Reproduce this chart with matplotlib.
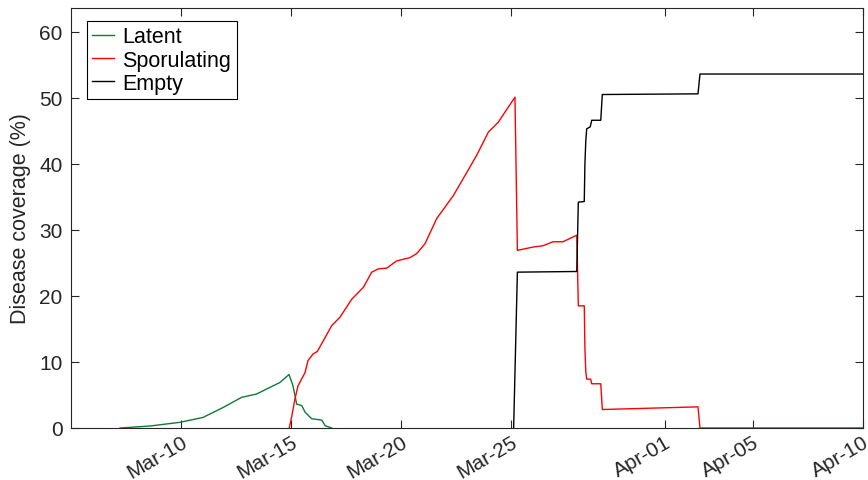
import datetime as dt
import matplotlib
matplotlib.use("Agg")
import matplotlib.pyplot as plt
import matplotlib.dates as mdates

plt.rcParams['font.family'] = ['Liberation Sans', 'DejaVu Sans']

base = dt.datetime(2014, 3, 5)

# days since Mar-05
latent_days = [2.23, 3.59, 4.95, 6.0, 6.91, 7.76, 8.44, 8.95, 9.5, 9.91,
               10.09, 10.26, 10.49, 10.64, 10.94, 11.4, 11.55, 11.85]
latent_vals = [0, 0.3, 0.86, 1.6, 3.1, 4.65, 5.15, 6.0, 6.9, 8.1,
               6.4, 3.6, 3.4, 2.4, 1.4, 1.2, 0.35, 0]

spor_days = [9.92, 10.03, 10.18, 10.32, 10.64, 10.77, 11.0, 11.2, 11.55, 11.85,
             12.23, 12.76, 13.29, 13.67, 13.97, 14.35, 14.8, 15.41, 15.71, 16.09,
             16.62, 17.38, 17.99, 18.44, 18.97, 19.42, 20.18, 20.29, 21.0, 21.45,
             21.91, 22.36, 22.99, 23.06, 23.33, 23.36, 23.4, 23.44, 23.62, 23.67,
             24.08, 24.15, 28.5, 28.59, 36.0]
spor_vals = [0, 1.7, 4.4, 6.4, 8.4, 10.2, 11.2, 11.6, 13.7, 15.5,
             16.8, 19.5, 21.3, 23.6, 24.1, 24.2, 25.3, 25.8, 26.4, 27.9,
             31.7, 35.2, 38.7, 41.3, 44.8, 46.3, 50.1, 26.9, 27.4, 27.6,
             28.2, 28.2, 29.2, 18.5, 18.5, 12.0, 8.5, 7.4, 7.4, 6.7,
             6.7, 2.8, 3.2, 0, 0]

empty_days = [20.12, 20.29, 22.99, 23.06, 23.33, 23.36, 23.4, 23.44, 23.6, 23.67,
              24.08, 24.15, 28.5, 28.59, 36.0]
empty_vals = [0, 23.6, 23.7, 34.2, 34.3, 40.0, 43.5, 45.3, 45.6, 46.6,
              46.6, 50.5, 50.6, 53.6, 53.6]

tick_dates = ["2014-03-10", "2014-03-15", "2014-03-20", "2014-03-25",
              "2014-04-01", "2014-04-05", "2014-04-10"]
y_ticks = [0, 10, 20, 30, 40, 50, 60]


def to_dates(days):
    return [base + dt.timedelta(days=d) for d in days]


fig = plt.figure(figsize=(8.68, 4.81), dpi=100)
ax = fig.add_axes([71 / 868, 1 - 429 / 481, (863 - 71) / 868, (429 - 9) / 481])

ax.plot(to_dates(latent_days), latent_vals, color='#0f7a35', lw=1.0, label='Latent')
ax.plot(to_dates(spor_days), spor_vals, color='#ff0000', lw=1.0, label='Sporulating')
ax.plot(to_dates(empty_days), empty_vals, color='#000000', lw=1.0, label='Empty')

ax.set_xlim(base, base + dt.timedelta(days=36))
ax.set_ylim(0, 63.6)
ax.set_yticks(y_ticks)
ax.set_xticks([dt.datetime.strptime(t, "%Y-%m-%d") for t in tick_dates])
ax.xaxis.set_major_formatter(mdates.DateFormatter('%b-%d'))

ax.tick_params(direction='in', length=6, width=0.8, top=True, right=True,
               labelsize=15, colors='#262626', labelcolor='#262626')
ax.tick_params(axis='y', pad=6)
ax.tick_params(axis='x', pad=3)
for lab in ax.get_xticklabels():
    lab.set_rotation(30)
    lab.set_ha('right')
    lab.set_rotation_mode('anchor')

for s in ax.spines.values():
    s.set_color('#262626')
    s.set_linewidth(0.8)

ax.set_ylabel('Disease coverage (%)', fontsize=15.5, color='#262626', labelpad=6)

leg = ax.legend(loc='upper left', bbox_to_anchor=(87 / 868, 1 - 22 / 481),
                bbox_transform=fig.transFigure, borderaxespad=0, fontsize=15.5,
                fancybox=False, edgecolor='black', framealpha=1,
                handlelength=1.0, handletextpad=0.4, labelspacing=0.1,
                borderpad=0.25)
leg.get_frame().set_linewidth(0.8)

fig.savefig('out.png', dpi=100)
